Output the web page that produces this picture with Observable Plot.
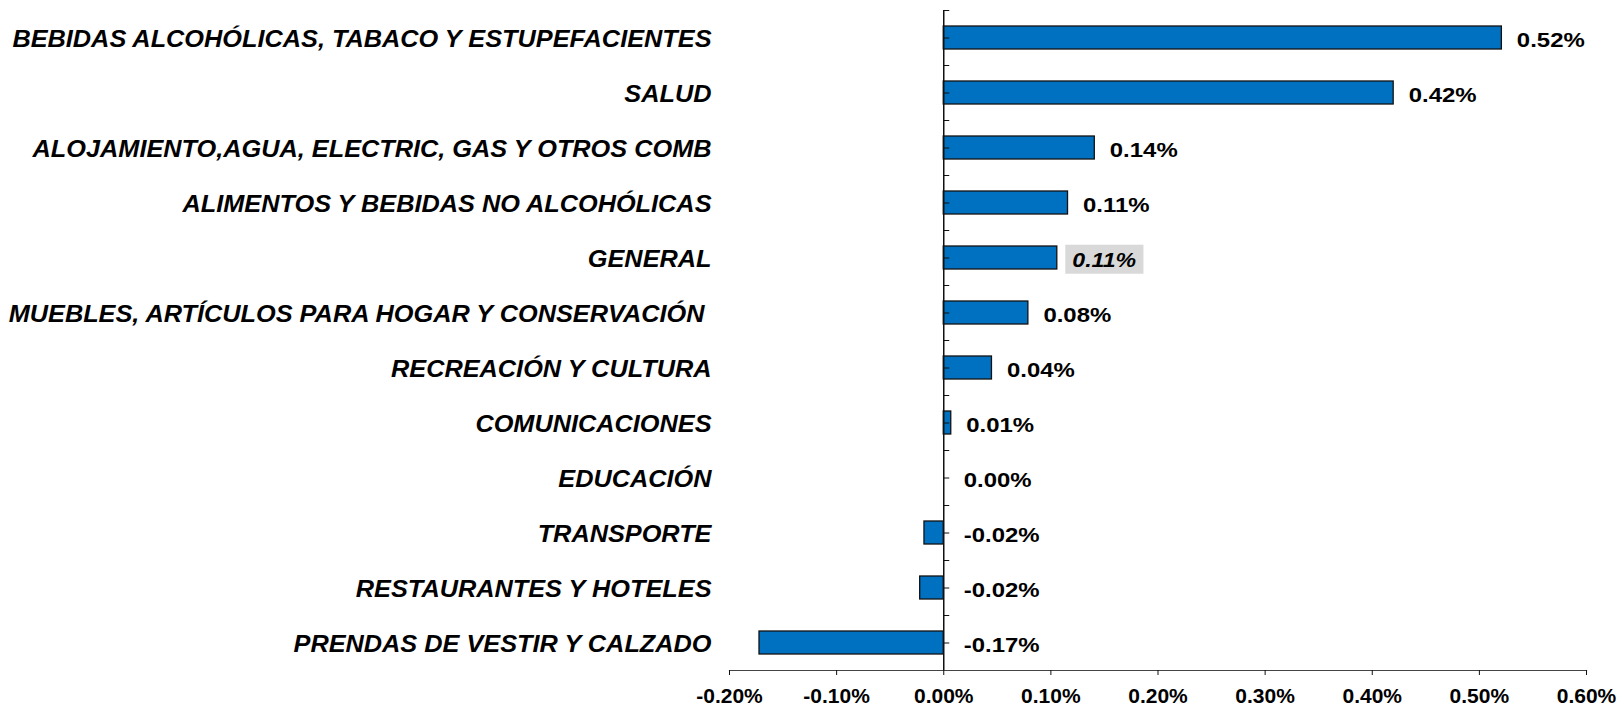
<!DOCTYPE html>
<html><head><meta charset="utf-8">
<script src="https://cdn.jsdelivr.net/npm/d3@7"></script>
<script src="https://cdn.jsdelivr.net/npm/@observablehq/plot@0.6"></script>
<style>body{margin:0;background:#fff;}</style>
</head><body><div id="chart"></div>
<script>
const categories = [
  "BEBIDAS ALCOHÓLICAS, TABACO Y ESTUPEFACIENTES",
  "SALUD",
  "ALOJAMIENTO,AGUA, ELECTRIC, GAS Y OTROS COMB",
  "ALIMENTOS Y BEBIDAS NO ALCOHÓLICAS",
  "GENERAL",
  "MUEBLES, ARTÍCULOS PARA HOGAR Y CONSERVACIÓN ",
  "RECREACIÓN Y CULTURA",
  "COMUNICACIONES",
  "EDUCACIÓN",
  "TRANSPORTE",
  "RESTAURANTES Y HOTELES",
  "PRENDAS DE VESTIR Y CALZADO"
];
const values = [0.521, 0.420, 0.141, 0.116, 0.106, 0.079, 0.045, 0.007, 0.000, -0.018, -0.022, -0.172];
const valueLabels = ["0.52%", "0.42%", "0.14%", "0.11%", "0.11%", "0.08%", "0.04%", "0.01%", "0.00%", "-0.02%", "-0.02%", "-0.17%"];
const highlighted = "GENERAL";
const xTicks = [-0.2, -0.1, 0, 0.1, 0.2, 0.3, 0.4, 0.5, 0.6];
const xTickLabels = ["-0.20%", "-0.10%", "0.00%", "0.10%", "0.20%", "0.30%", "0.40%", "0.50%", "0.60%"];

const W = 1620, H = 707, mT = 10, mB = 37, mL = 729, mR = 34;
const data = categories.map((c, i) => ({cat: c, v: values[i], label: valueLabels[i]}));
const step = (H - mT - mB) / categories.length;
const font = "'Liberation Sans', Arial, sans-serif";

const plot = Plot.plot({
  width: W, height: H,
  marginTop: mT, marginBottom: mB, marginLeft: mL, marginRight: mR,
  style: {fontFamily: font, background: "#fff", color: "#000", overflow: "visible"},
  x: {domain: [-0.2, 0.6]},
  y: {domain: categories, padding: 0},
  marks: [
    Plot.barX(data, {x: "v", y: "cat", fill: "#0070C0", stroke: "#111", strokeWidth: 1.3, insetTop: 16, insetBottom: 16}),
    Plot.ruleX([0], {stroke: "#111", strokeWidth: 1.5}),
    Plot.frame({anchor: "bottom", stroke: "#444", strokeWidth: 1.2}),
    Plot.ruleY(categories, {y: d => d, x1: 0, x2: 0, insetRight: -6, stroke: "#111"}),
    Plot.ruleY(categories, {y: d => d, x1: 0, x2: 0, insetRight: -6, stroke: "#111", dy: -step / 2}),
    Plot.axisY({tickSize: 0, tickPadding: 18, fontSize: 23, fontWeight: "bold", fontStyle: "italic", label: null, className: "cat-label", dy: 2}),
    Plot.axisX({ticks: xTicks, tickFormat: d => xTickLabels[xTicks.findIndex(t => Math.abs(t - d) < 1e-9)],
      tickSize: 5, tickPadding: 13, fontSize: 20, fontWeight: "bold", label: null, stroke: "#111", className: "x-label"}),
    Plot.text(data.filter(d => d.cat !== highlighted && d.v > 0), {x: "v", y: "cat", text: "label", textAnchor: "start", dx: 15, dy: 2, fontSize: 21, fontWeight: "bold", fill: "#000", className: "value-label"}),
    Plot.text(data.filter(d => d.cat !== highlighted && d.v <= 0), {x: 0, y: "cat", text: "label", textAnchor: "start", dx: 20, dy: 2, fontSize: 21, fontWeight: "bold", fill: "#000", className: "value-label"}),
    Plot.text(data.filter(d => d.cat === highlighted), {x: "v", y: "cat", text: "label", textAnchor: "start", dx: 15, dy: 2, fontSize: 21, fontWeight: "bold", fontStyle: "italic", fill: "#000", className: "general-label"})
  ]
});
document.getElementById("chart").appendChild(plot);

// horizontally widen glyphs, as in the reference
function stretch(sel, k) {
  plot.querySelectorAll(sel).forEach(t => {
    const len = t.getComputedTextLength();
    t.setAttribute("textLength", len * k);
    t.setAttribute("lengthAdjust", "spacingAndGlyphs");
  });
}
stretch(".cat-label text", 1.1);
stretch(".value-label text", 1.14);
stretch(".general-label text", 1.1);
stretch(".x-label text", 1.05);

// gray box behind the highlighted label
const g = plot.querySelector(".general-label");
if (g) {
  g.querySelectorAll("text").forEach(t => {
    const b = t.getBBox();
    const r = document.createElementNS("http://www.w3.org/2000/svg", "rect");
    r.setAttribute("x", b.x - 7);
    r.setAttribute("y", b.y - 3);
    r.setAttribute("width", b.width + 14);
    r.setAttribute("height", b.height + 6);
    r.setAttribute("fill", "#D9D9D9");
    const tr = t.getAttribute("transform");
    if (tr) r.setAttribute("transform", tr);
    t.parentNode.insertBefore(r, t);
  });
}
</script>
</body></html>
